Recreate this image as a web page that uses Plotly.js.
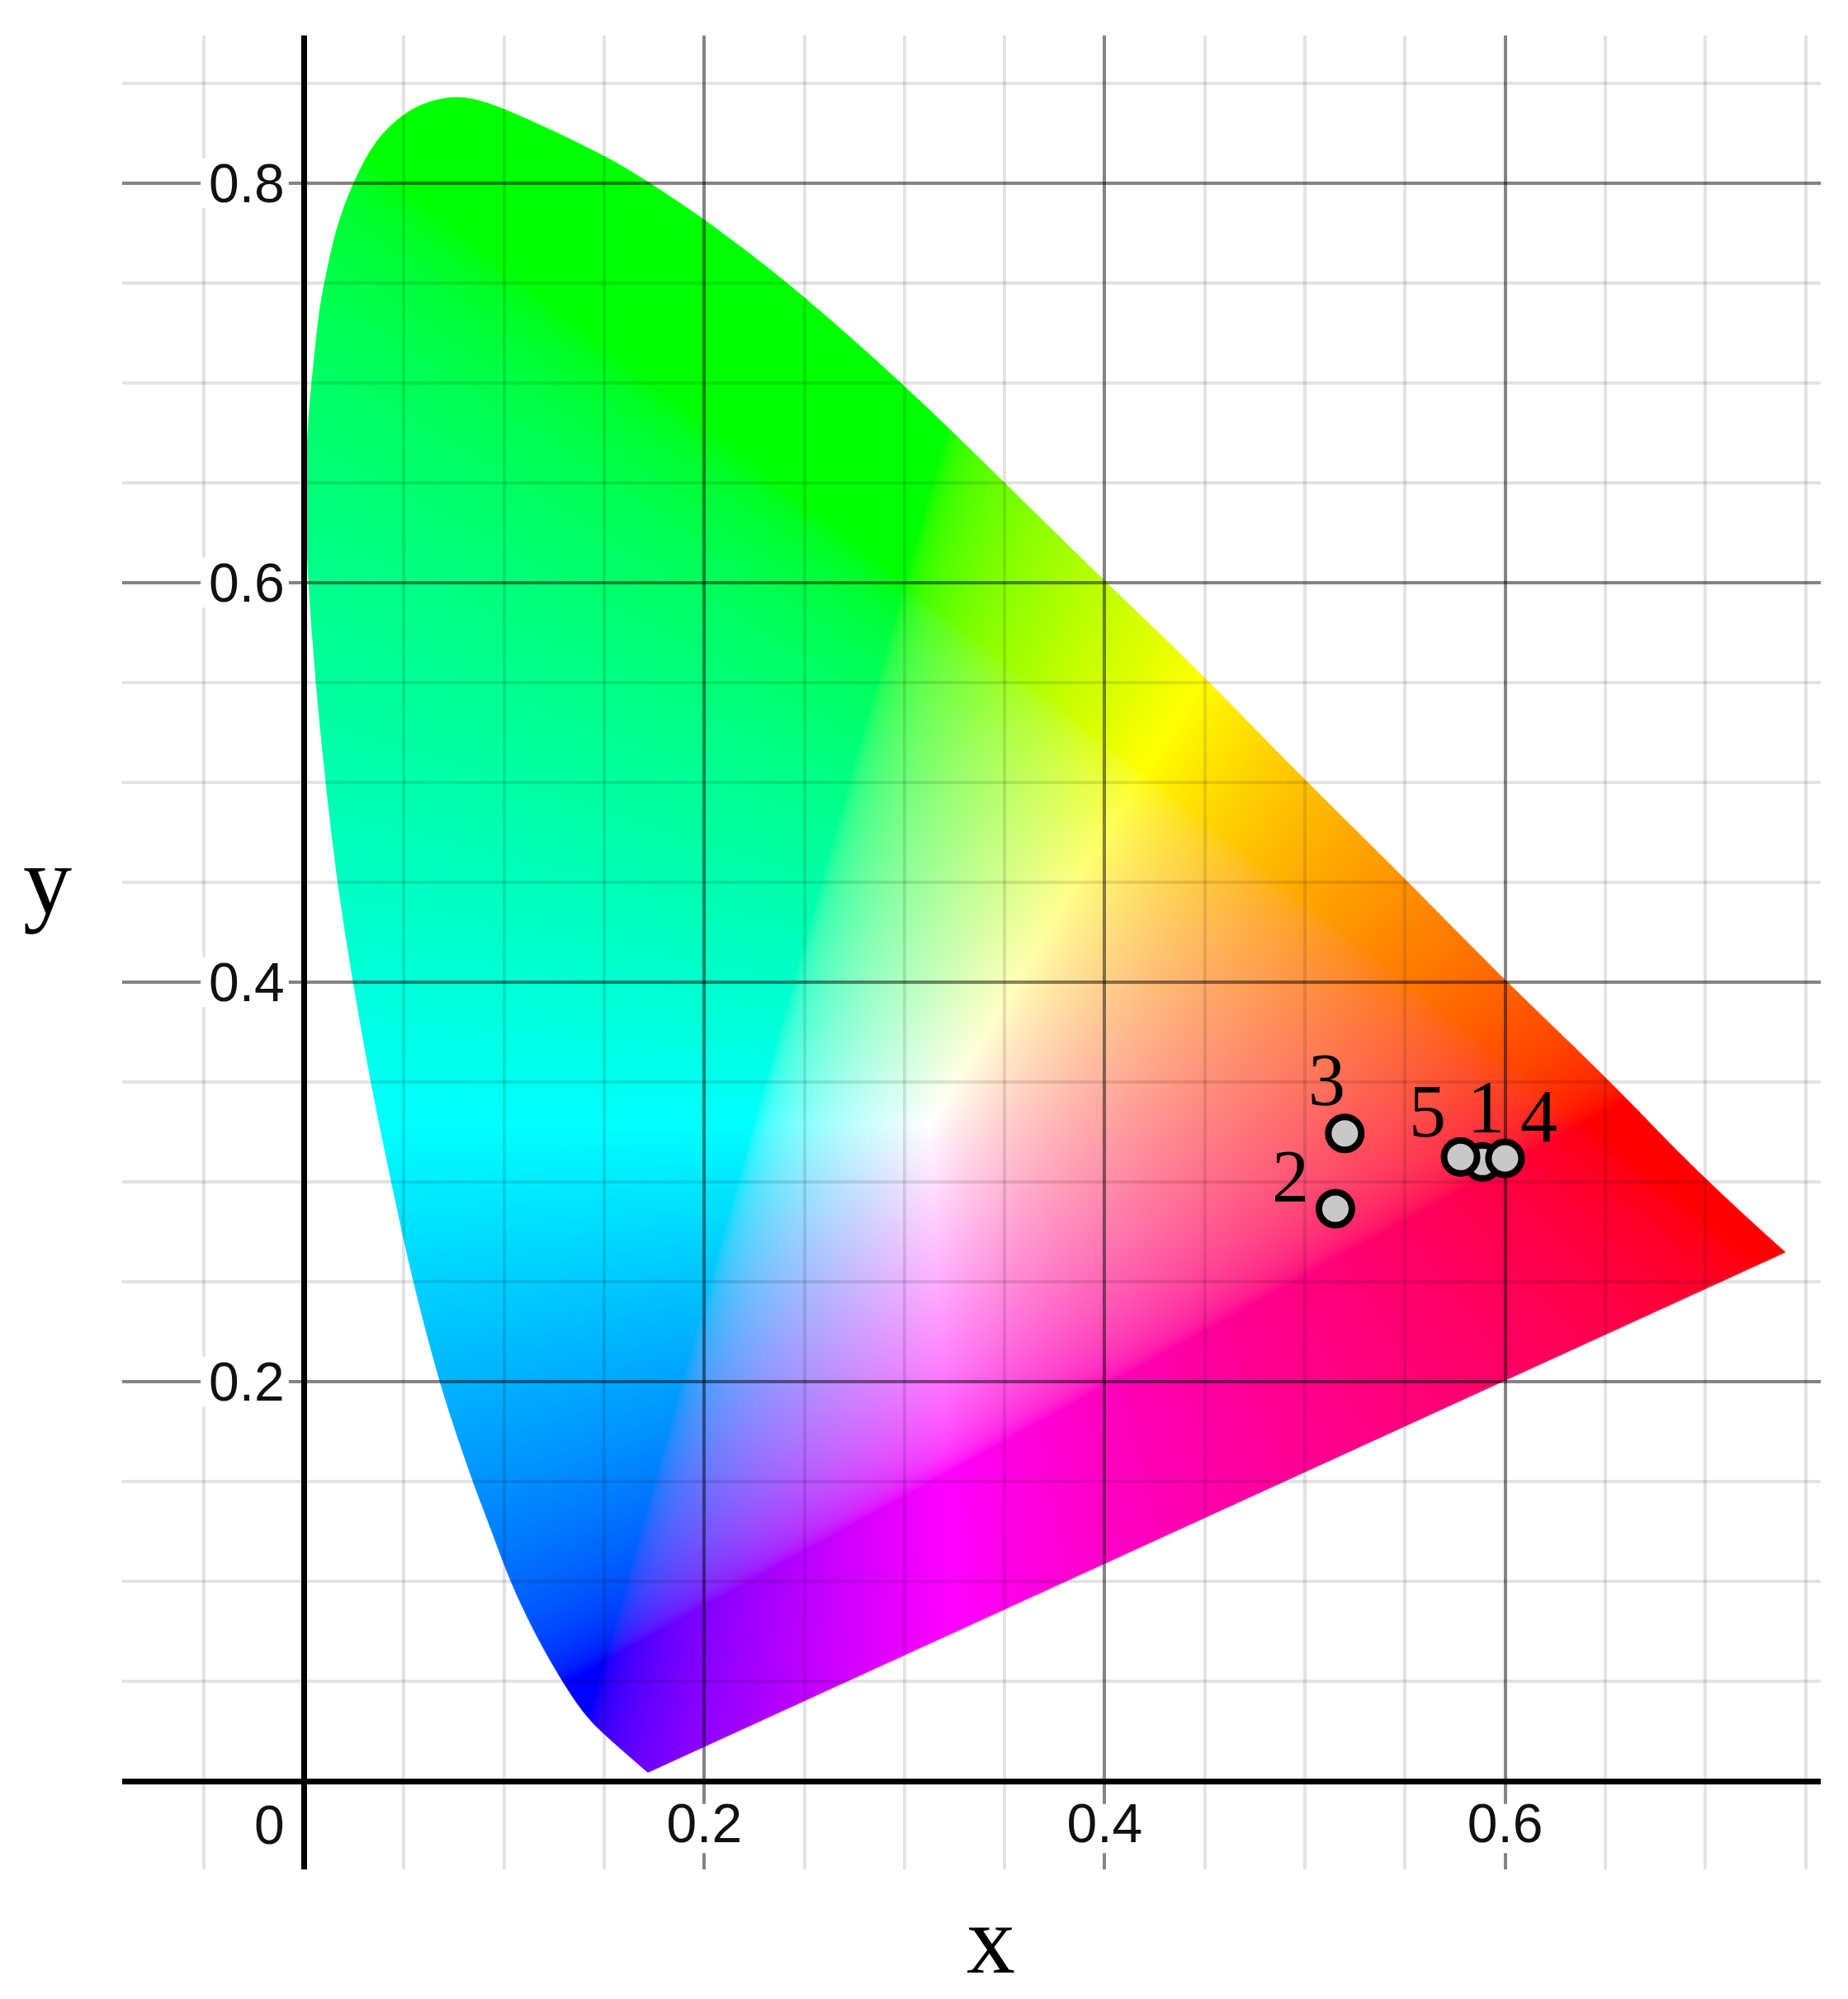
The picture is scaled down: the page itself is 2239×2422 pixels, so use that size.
<!DOCTYPE html>
<html>
<head>
<meta charset="utf-8">
<script src="https://cdn.plot.ly/plotly-3.0.1.min.js"></script>
<style>html,body{margin:0;padding:0;background:#fff}</style>
</head>
<body>
<div id="chart" style="width:2239px;height:2422px"></div>
<script>
// Spectral locus outline (bottom corner -> left side -> peak -> red tip)
var locusX = [0.1719,0.1499,0.1389,0.1272,0.1149,0.1032,0.0925,0.0846,0.0737,0.0665,0.0544,0.0434,0.0331,0.0246,0.0166,0.0108,0.0058,0.0021,0.0006,0.0018,0.0037,0.0072,0.0100,0.0160,0.0245,0.0360,0.0510,0.0650,0.0798,0.0998,0.1499,0.1726,0.2000,0.2427,0.2995,0.3509,0.3997,0.4423,0.5,0.55,0.6,0.6526,0.7005,0.7402];
var locusY = [0.0044,0.0233,0.0350,0.0529,0.0749,0.0997,0.1286,0.1493,0.1810,0.2044,0.2501,0.3008,0.3508,0.3993,0.4496,0.4999,0.5501,0.6011,0.64,0.6769,0.6996,0.7333,0.7499,0.7774,0.8005,0.8222,0.8360,0.8421,0.8439,0.8380,0.8143,0.8005,0.7822,0.7498,0.6996,0.6494,0.6013,0.5605,0.5015,0.452,0.401,0.3505,0.3005,0.2649];

// Measured samples
var pointLabels = ["1","2","3","4","5"];
var pointX = [0.5887,0.5152,0.5199,0.5999,0.5777];
var pointY = [0.3100,0.2866,0.3243,0.3118,0.3125];
var labelShiftX = [4,-54,-22,41,-40];
var labelShiftY = [66,39,65,51,55];

// Axis ticks
var xTickVals = [0,0.2,0.4,0.6];
var xTickText = ["","0.2","0.4","0.6"];
var yTickVals = [0,0.2,0.4,0.6,0.8];
var yTickText = ["","0.2","0.4","0.6","0.8"];

var xRange = [-0.0907,0.7576];
var yRange = [-0.0442,0.874];

// Colour field of the chromaticity plane: CIE xy -> sRGB, clipped and normalised
function gam(c){ return c<=0.0031308 ? 12.92*c : 1.055*Math.pow(c,1/2.4)-0.055; }
function chromaColour(x,y,out,i){
  var z=1-x-y, X=x/y, Z=z/y;
  var r= 3.2406*X-1.5372-0.4986*Z;
  var g=-0.9689*X+1.8758+0.0415*Z;
  var b= 0.0557*X-0.2040+1.0570*Z;
  if(r<0)r=0; if(g<0)g=0; if(b<0)b=0;
  var m=Math.max(r,g,b)||1;
  out[i]=255*gam(r/m); out[i+1]=255*gam(g/m); out[i+2]=255*gam(b/m); out[i+3]=255;
}
function buildField(x0,x1,y0,y1,pxPerUnit){
  var W=Math.round((x1-x0)*pxPerUnit), H=Math.round((y1-y0)*pxPerUnit);
  var cv=document.createElement('canvas'); cv.width=W; cv.height=H;
  var c=cv.getContext('2d');
  var im=c.createImageData(W,H), d=im.data;
  for(var j=0;j<H;j++){
    var y=y1-(j+0.5)/pxPerUnit;
    for(var i=0;i<W;i++){
      chromaColour(x0+(i+0.5)/pxPerUnit,Math.max(y,0.001),d,(j*W+i)*4);
    }
  }
  c.putImageData(im,0,0);
  // cut the field to the locus outline
  function px(k){return [(locusX[k]-x0)*pxPerUnit,(y1-locusY[k])*pxPerUnit];}
  c.globalCompositeOperation='destination-in';
  c.beginPath();
  var p=px(0); c.moveTo(p[0],p[1]);
  for(var k=1;k<locusX.length-1;k++){
    var a=px(k), b=px(k+1);
    if(k===locusX.length-2) c.quadraticCurveTo(a[0],a[1],b[0],b[1]);
    else c.quadraticCurveTo(a[0],a[1],(a[0]+b[0])/2,(a[1]+b[1])/2);
  }
  c.closePath(); c.fill();
  return cv.toDataURL('image/png');
}
var fx0=0,fx1=0.76,fy0=0,fy1=0.86;
var fieldSrc=buildField(fx0,fx1,fy0,fy1,2426);

var tickFont={family:'"Liberation Sans",Arial,sans-serif',size:66,color:'#111'};
var serif='"Liberation Serif","Times New Roman",serif';
var majorGrid='rgba(0,0,0,0.42)', minorGrid='rgba(0,0,0,0.11)';

var annotations=pointLabels.map(function(t,i){
  return {x:pointX[i],y:pointY[i],xref:'x',yref:'y',text:t,showarrow:false,
    xshift:labelShiftX[i],yshift:labelShiftY[i],xanchor:'center',yanchor:'middle',
    font:{family:serif,size:90,color:'#000'}};
});
annotations.push({x:-0.0173,y:-0.0219,xref:'x',yref:'y',text:'0',showarrow:false,xanchor:'center',yanchor:'middle',font:tickFont});
annotations.push({x:0.5112,y:-0.0383,xref:'paper',yref:'paper',text:'x',showarrow:false,xanchor:'center',yanchor:'middle',
  font:{family:serif,size:118,color:'#000'}});
annotations.push({x:-0.0442,y:0.5388,xref:'paper',yref:'paper',text:'y',showarrow:false,xanchor:'center',yanchor:'middle',
  font:{family:serif,size:118,color:'#000'}});

// White gaps that keep grid lines off the tick labels
var labelGaps=[];
xTickVals.forEach(function(v,i){ if(xTickText[i]) labelGaps.push({type:'rect',layer:'between',xref:'x',yref:'y',
  x0:v-0.0225,x1:v+0.0225,y0:-0.036,y1:-0.0115,line:{width:0},fillcolor:'#fff'}); });
yTickVals.forEach(function(v,i){ if(yTickText[i]) labelGaps.push({type:'rect',layer:'between',xref:'x',yref:'y',
  x0:-0.0515,x1:-0.0075,y0:v-0.0125,y1:v+0.0125,line:{width:0},fillcolor:'#fff'}); });

var traces=[{
  type:'scatter',mode:'markers',x:pointX,y:pointY,text:pointLabels,
  marker:{size:40,color:'#c8c8c8',line:{color:'#000',width:8}},
  hoverinfo:'text+x+y',showlegend:false,cliponaxis:false
}];

var layout={
  width:2239,height:2422,
  margin:{l:148,r:33,t:43,b:157,pad:0},
  paper_bgcolor:'#fff',plot_bgcolor:'#fff',
  showlegend:false,
  xaxis:{range:xRange,anchor:'free',position:(0-yRange[0])/(yRange[1]-yRange[0]),
    tickmode:'array',tickvals:xTickVals,ticktext:xTickText,ticks:'',tickfont:tickFont,tickangle:0,
    showline:true,linecolor:'#000',linewidth:7,layer:'above traces',zeroline:false,
    showgrid:true,gridcolor:majorGrid,gridwidth:4,ticklabelstandoff:-9,
    minor:{dtick:0.05,tick0:0,showgrid:true,gridcolor:minorGrid,gridwidth:4,ticks:''}},
  yaxis:{range:yRange,anchor:'free',position:(0-xRange[0])/(xRange[1]-xRange[0]),
    tickmode:'array',tickvals:yTickVals,ticktext:yTickText,ticks:'',tickfont:tickFont,
    showline:true,linecolor:'#000',linewidth:7,layer:'above traces',zeroline:false,
    showgrid:true,gridcolor:majorGrid,gridwidth:4,ticklabelstandoff:7,
    minor:{dtick:0.05,tick0:0,showgrid:true,gridcolor:minorGrid,gridwidth:4,ticks:''}},
  images:[{source:fieldSrc,xref:'x',yref:'y',x:fx0,y:fy1,sizex:fx1-fx0,sizey:fy1-fy0,
    xanchor:'left',yanchor:'top',sizing:'stretch',layer:'below',opacity:1}],
  shapes:labelGaps,
  annotations:annotations
};
Plotly.newPlot('chart',traces,layout,{displayModeBar:false,responsive:false});
</script>
</body>
</html>
